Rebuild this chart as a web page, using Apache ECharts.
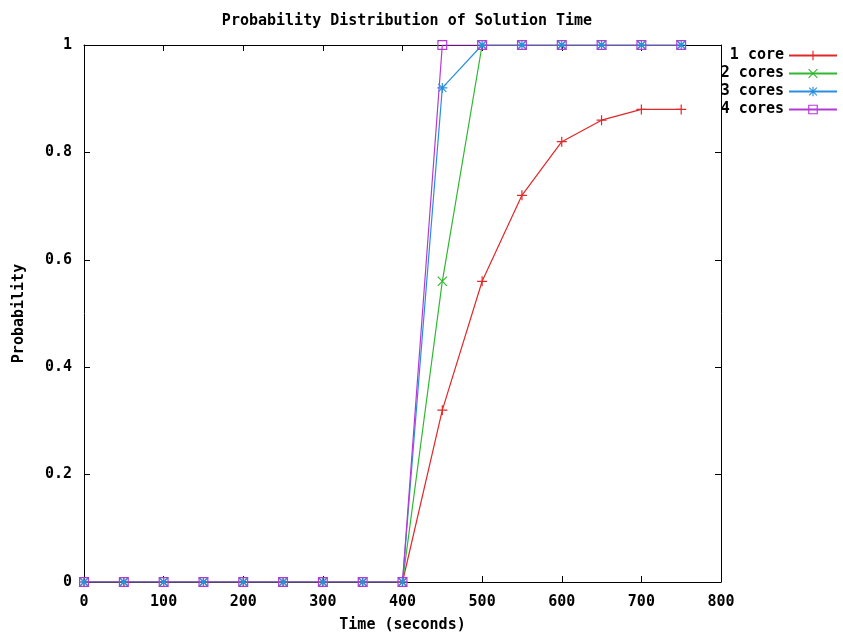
<!DOCTYPE html>
<html>
<head>
<meta charset="utf-8">
<script src="https://cdn.jsdelivr.net/npm/echarts@6/dist/echarts.min.js"></script>
<style>
  html, body { margin: 0; padding: 0; background: #fff; }
  #chart { width: 843px; height: 633px; }
</style>
</head>
<body>
<div id="chart"></div>
<script>
// time points (seconds)
const times = [0, 50, 100, 150, 200, 250, 300, 350, 400, 450, 500, 550, 600, 650, 700, 750];
// probability per core count
const oneCore    = [0, 0, 0, 0, 0, 0, 0, 0, 0, 0.32, 0.56, 0.72, 0.82, 0.86, 0.88, 0.88];
const twoCores   = [0, 0, 0, 0, 0, 0, 0, 0, 0, 0.56, 1, 1, 1, 1, 1, 1];
const threeCores = [0, 0, 0, 0, 0, 0, 0, 0, 0, 0.92, 1, 1, 1, 1, 1, 1];
const fourCores  = [0, 0, 0, 0, 0, 0, 0, 0, 0, 1, 1, 1, 1, 1, 1, 1];
const seriesNames = ['1 core', '2 cores', '3 cores', '4 cores'];

const font = 'DejaVu Sans Mono';
const txt = { fontFamily: font, fontWeight: 'bold', fontSize: 15, color: '#000' };

// gnuplot style point markers
const plus = 'path://M4.4,0H5.6V10H4.4Z M0,4.4H10V5.6H0Z';
const cross = 'path://M0,0.8L0.8,0L10,9.2L9.2,10Z M9.2,0L10,0.8L0.8,10L0,9.2Z';
const star = 'path://M4.4,0H5.6V10H4.4Z M0,4.4H10V5.6H0Z M0.6,1.4L1.4,0.6L9.4,8.6L8.6,9.4Z M8.6,0.6L9.4,1.4L1.4,9.4L0.6,8.6Z';
const square = 'path://M0,0H10V10H0Z M1.2,1.2V8.8H8.8V1.2Z';

function makeSeries(name, vals, color, symbol) {
    return {
        name: name,
        type: 'line',
        data: times.map((t, i) => [t, vals[i]]),
        symbol: symbol,
        symbolSize: 10,
        showSymbol: true,
        itemStyle: { color: color, borderWidth: 0 },
        lineStyle: { color: color, width: 1.2 },
        emphasis: { disabled: true }
    };
}

const chart = echarts.init(document.getElementById('chart'));

const axisLine = { show: true, onZero: false, lineStyle: { color: '#000', width: 1 } };
const tickIn = { show: true, inside: true, length: 6, lineStyle: { color: '#000' } };

chart.setOption({
    animation: false,
    backgroundColor: '#fff',
    title: {
        text: 'Probability Distribution of Solution Time',
        left: 402,
        top: 9,
        textAlign: 'center',
        textStyle: { ...txt }
    },
    legend: {
        data: seriesNames,
        orient: 'vertical',
        right: 0,
        top: 43,
        align: 'right',
        itemWidth: 48,
        itemHeight: 12,
        itemGap: 3,
        textStyle: { ...txt, lineHeight: 12 }
    },
    grid: { left: 84, right: 122, top: 45, bottom: 51, outerBoundsMode: 'none' },
    xAxis: [{
        type: 'value',
        min: 0, max: 800, interval: 100,
        name: 'Time (seconds)',
        nameLocation: 'middle',
        nameGap: 36,
        nameTextStyle: { ...txt },
        axisLine: axisLine,
        axisTick: tickIn,
        axisLabel: { ...txt, margin: 13 },
        splitLine: { show: false }
    }, {
        type: 'value',
        position: 'top',
        min: 0, max: 800, interval: 100,
        axisLine: axisLine,
        axisTick: tickIn,
        axisLabel: { show: false },
        splitLine: { show: false }
    }],
    yAxis: [{
        type: 'value',
        min: 0, max: 1, interval: 0.2,
        name: 'Probability',
        nameLocation: 'middle',
        nameGap: 57,
        nameTextStyle: { ...txt },
        axisLine: axisLine,
        axisTick: tickIn,
        axisLabel: { ...txt, margin: 12 },
        splitLine: { show: false }
    }, {
        type: 'value',
        position: 'right',
        min: 0, max: 1, interval: 0.2,
        axisLine: axisLine,
        axisTick: tickIn,
        axisLabel: { show: false },
        splitLine: { show: false }
    }],
    series: [
        makeSeries(seriesNames[0], oneCore, '#e02828', plus),
        makeSeries(seriesNames[1], twoCores, '#2fb82f', cross),
        makeSeries(seriesNames[2], threeCores, '#2a8ee0', star),
        makeSeries(seriesNames[3], fourCores, '#b43ad8', square)
    ]
});
</script>
</body>
</html>
